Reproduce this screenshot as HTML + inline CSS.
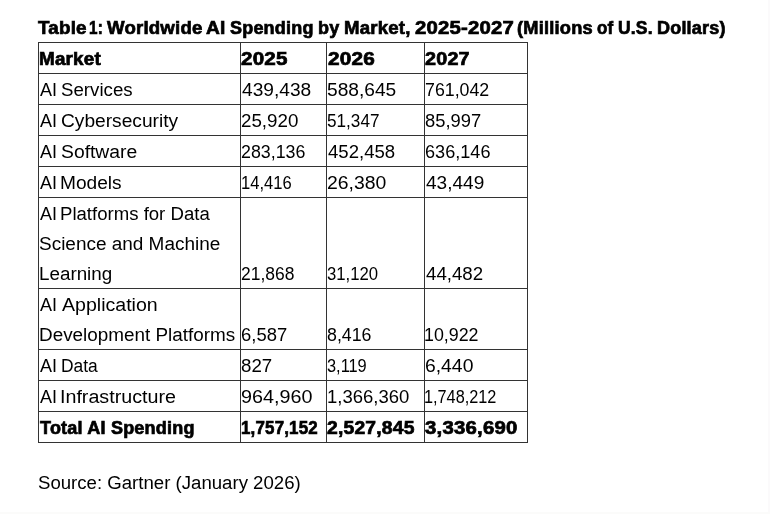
<!DOCTYPE html>
<html>
<head>
<meta charset="utf-8">
<title>Worldwide AI Spending by Market</title>
<style>
html, body { margin: 0; padding: 0; background: #fff; }
body { width: 770px; height: 514px; position: relative; overflow: hidden;
  font-family: "Liberation Sans", Arial, sans-serif; color: #000; }
span { position: relative; }
h1 { position: absolute; width: 700px; height: 26px; left: 38px; top: 15px; margin: 0; font-size: 18px; font-weight: bold;
  line-height: 26px; white-space: nowrap; word-spacing: -1px; -webkit-text-stroke: 0.7px #000; }
table { position: absolute; left: 38px; top: 42px; border-collapse: separate; border-spacing: 0;
  border-left: 1px solid #333; border-top: 1px solid #333; table-layout: fixed; }
td { border-right: 1px solid #333; border-bottom: 1px solid #333; padding: 0 0 0 1px;
  font-size: 18px; line-height: 30px; vertical-align: bottom; white-space: nowrap; }
td span { top: 1px; }
td.c1 { width: 200px; }
td.c2 { width: 84px; }
td.c3 { width: 96px; }
td.c4 { width: 101px; }
tr.b td { font-weight: bold; -webkit-text-stroke: 0.7px #000; }
p.src { position: absolute; left: 38px; top: 468px; margin: 0; font-size: 18px; line-height: 30px;
  white-space: nowrap; }
h1 span { position: absolute; top: 0; }
h1 span, tr.b td span { display: inline-block; transform-origin: 0 0; }
td span, p.src span { display: inline-block; transform-origin: 0 0; }
body::after { content: ""; position: absolute; left: 0; right: 0; bottom: 0; height: 2px; background: #fbfbfa; }
body::before { content: ""; position: absolute; top: 0; bottom: 0; right: 0; width: 2px; background: #fbfafb; }
</style>
</head>
<body>
<h1><span style="letter-spacing:0.200px;left:0.00px;transform:scaleX(1.0444)">Table</span> <span style="letter-spacing:0.200px;left:51.00px;transform:scaleX(0.8462)">1:</span> <span style="letter-spacing:0.200px;left:69.00px;transform:scaleX(1.0330)">Worldwide</span> <span style="letter-spacing:0.200px;left:168.00px;transform:scaleX(1.0625)">AI</span> <span style="letter-spacing:0.200px;left:192.00px">Spending</span> <span style="letter-spacing:0.200px;left:280.00px">by</span> <span style="letter-spacing:0.200px;left:306.00px;transform:scaleX(1.0331)">Market,</span> <span style="letter-spacing:0.200px;left:377.00px;transform:scaleX(1.1279)">2025-2027</span> <span style="letter-spacing:0.200px;left:479.00px;transform:scaleX(1.0139)">(Millions</span> <span style="letter-spacing:0.200px;left:559.00px;transform:scaleX(0.9412)">of</span> <span style="letter-spacing:0.200px;left:580.00px;transform:scaleX(0.9697)">U.S.</span> <span style="letter-spacing:0.200px;left:619.00px">Dollars)</span></h1>
<table>
<tr class="b"><td class="c1"><span style="letter-spacing:0.200px;left:-1.00px;transform:scaleX(1.0458)">Market</span></td><td class="c2"><span style="letter-spacing:0.200px;left:-1.00px;transform:scaleX(1.1435)">2025</span></td><td class="c3"><span style="letter-spacing:0.200px;left:0.00px;transform:scaleX(1.1529)">2026</span></td><td class="c4"><span style="letter-spacing:0.200px;left:-1.00px;transform:scaleX(1.0974)">2027</span></td></tr>
<tr><td class="c1"><span style="letter-spacing:0.000px;left:0.00px">AI</span> <span style="letter-spacing:0.000px;left:-1.00px;transform:scaleX(1.0375)">Services</span></td><td class="c2"><span style="letter-spacing:0.000px;left:0.00px;transform:scaleX(1.0635)">439,438</span></td><td class="c3"><span style="letter-spacing:0.000px;left:-1.00px;transform:scaleX(1.0645)">588,645</span></td><td class="c4"><span style="letter-spacing:0.000px;left:-1.00px;transform:scaleX(0.9876)">761,042</span></td></tr>
<tr><td class="c1"><span style="letter-spacing:0.000px;left:0.00px">AI</span> <span style="letter-spacing:0.000px;left:-1.00px;transform:scaleX(1.0643)">Cybersecurity</span></td><td class="c2"><span style="letter-spacing:0.000px;left:-1.00px;transform:scaleX(1.0423)">25,920</span></td><td class="c3"><span style="letter-spacing:0.000px;left:-1.00px;transform:scaleX(0.9536)">51,347</span></td><td class="c4"><span style="letter-spacing:0.000px;left:-1.00px;transform:scaleX(1.0196)">85,997</span></td></tr>
<tr><td class="c1"><span style="letter-spacing:0.000px;left:0.00px">AI</span> <span style="letter-spacing:0.000px;left:-1.00px;transform:scaleX(1.0734)">Software</span></td><td class="c2"><span style="letter-spacing:0.000px;left:-1.00px;transform:scaleX(0.9900)">283,136</span></td><td class="c3"><span style="letter-spacing:0.000px;left:0.00px;transform:scaleX(1.0319)">452,458</span></td><td class="c4"><span style="letter-spacing:0.000px;left:-1.00px;transform:scaleX(1.0060)">636,146</span></td></tr>
<tr><td class="c1"><span style="letter-spacing:0.000px;left:0.00px">AI</span> <span style="letter-spacing:0.000px;left:-2.00px;transform:scaleX(1.0622)">Models</span></td><td class="c2"><span style="letter-spacing:0.000px;left:-1.00px;transform:scaleX(0.9205)">14,416</span></td><td class="c3"><span style="letter-spacing:0.000px;left:-1.00px;transform:scaleX(1.0769)">26,380</span></td><td class="c4"><span style="letter-spacing:0.000px;left:0.00px;transform:scaleX(1.0577)">43,449</span></td></tr>
<tr><td class="c1"><span style="letter-spacing:0.000px;left:0.00px">AI</span> <span style="letter-spacing:0.000px;left:-2.00px;transform:scaleX(1.0322)">Platforms for Data</span><br><span style="letter-spacing:0.000px;left:-1.00px;transform:scaleX(1.0533)">Science and Machine</span><br><span style="letter-spacing:0.000px;left:-1.00px;transform:scaleX(1.0448)">Learning</span></td><td class="c2"><span style="letter-spacing:0.000px;left:-1.00px;transform:scaleX(0.9704)">21,868</span></td><td class="c3"><span style="letter-spacing:0.000px;left:-1.00px;transform:scaleX(0.9280)">31,120</span></td><td class="c4"><span style="letter-spacing:0.000px;left:0.00px;transform:scaleX(1.0377)">44,482</span></td></tr>
<tr><td class="c1"><span style="letter-spacing:0.000px;left:0.00px">AI</span> <span style="letter-spacing:0.000px;left:0.00px;transform:scaleX(1.0865)">Application</span><br><span style="letter-spacing:0.000px;left:-1.00px;transform:scaleX(1.0489)">Development Platforms</span></td><td class="c2"><span style="letter-spacing:0.000px;left:-1.00px;transform:scaleX(1.0244)">6,587</span></td><td class="c3"><span style="letter-spacing:0.000px;left:-1.00px;transform:scaleX(0.9878)">8,416</span></td><td class="c4"><span style="letter-spacing:0.000px;left:-2.00px;transform:scaleX(0.9898)">10,922</span></td></tr>
<tr><td class="c1"><span style="letter-spacing:0.000px;left:0.00px">AI</span> <span style="letter-spacing:0.000px;left:-1.00px;transform:scaleX(0.9661)">Data</span></td><td class="c2"><span style="letter-spacing:0.000px;left:-1.00px;transform:scaleX(1.0383)">827</span></td><td class="c3"><span style="letter-spacing:0.000px;left:-1.00px;transform:scaleX(0.9087)">3,119</span></td><td class="c4"><span style="letter-spacing:0.000px;left:-1.00px;transform:scaleX(1.0740)">6,440</span></td></tr>
<tr><td class="c1"><span style="letter-spacing:0.000px;left:0.00px">AI</span> <span style="letter-spacing:0.000px;left:-2.00px;transform:scaleX(1.0928)">Infrastructure</span></td><td class="c2"><span style="letter-spacing:0.000px;left:-1.00px;transform:scaleX(1.0972)">964,960</span></td><td class="c3"><span style="letter-spacing:0.000px;left:-1.00px;transform:scaleX(1.0272)">1,366,360</span></td><td class="c4"><span style="letter-spacing:0.000px;left:-2.00px;transform:scaleX(0.9040)">1,748,212</span></td></tr>
<tr class="b"><td class="c1"><span style="letter-spacing:0.200px;left:0.00px;transform:scaleX(1.0017)">Total AI Spending</span></td><td class="c2"><span style="letter-spacing:0.200px;left:-1.00px;transform:scaleX(0.9386)">1,757,152</span></td><td class="c3"><span style="letter-spacing:0.200px;left:-1.00px;transform:scaleX(1.0708)">2,527,845</span></td><td class="c4"><span style="letter-spacing:0.200px;left:-1.00px;transform:scaleX(1.1305)">3,336,690</span></td></tr>
</table>
<p class="src"><span style="letter-spacing:0.000px;left:0.00px;transform:scaleX(1.0337)">Source: Gartner (January 2026)</span></p>
</body>
</html>
